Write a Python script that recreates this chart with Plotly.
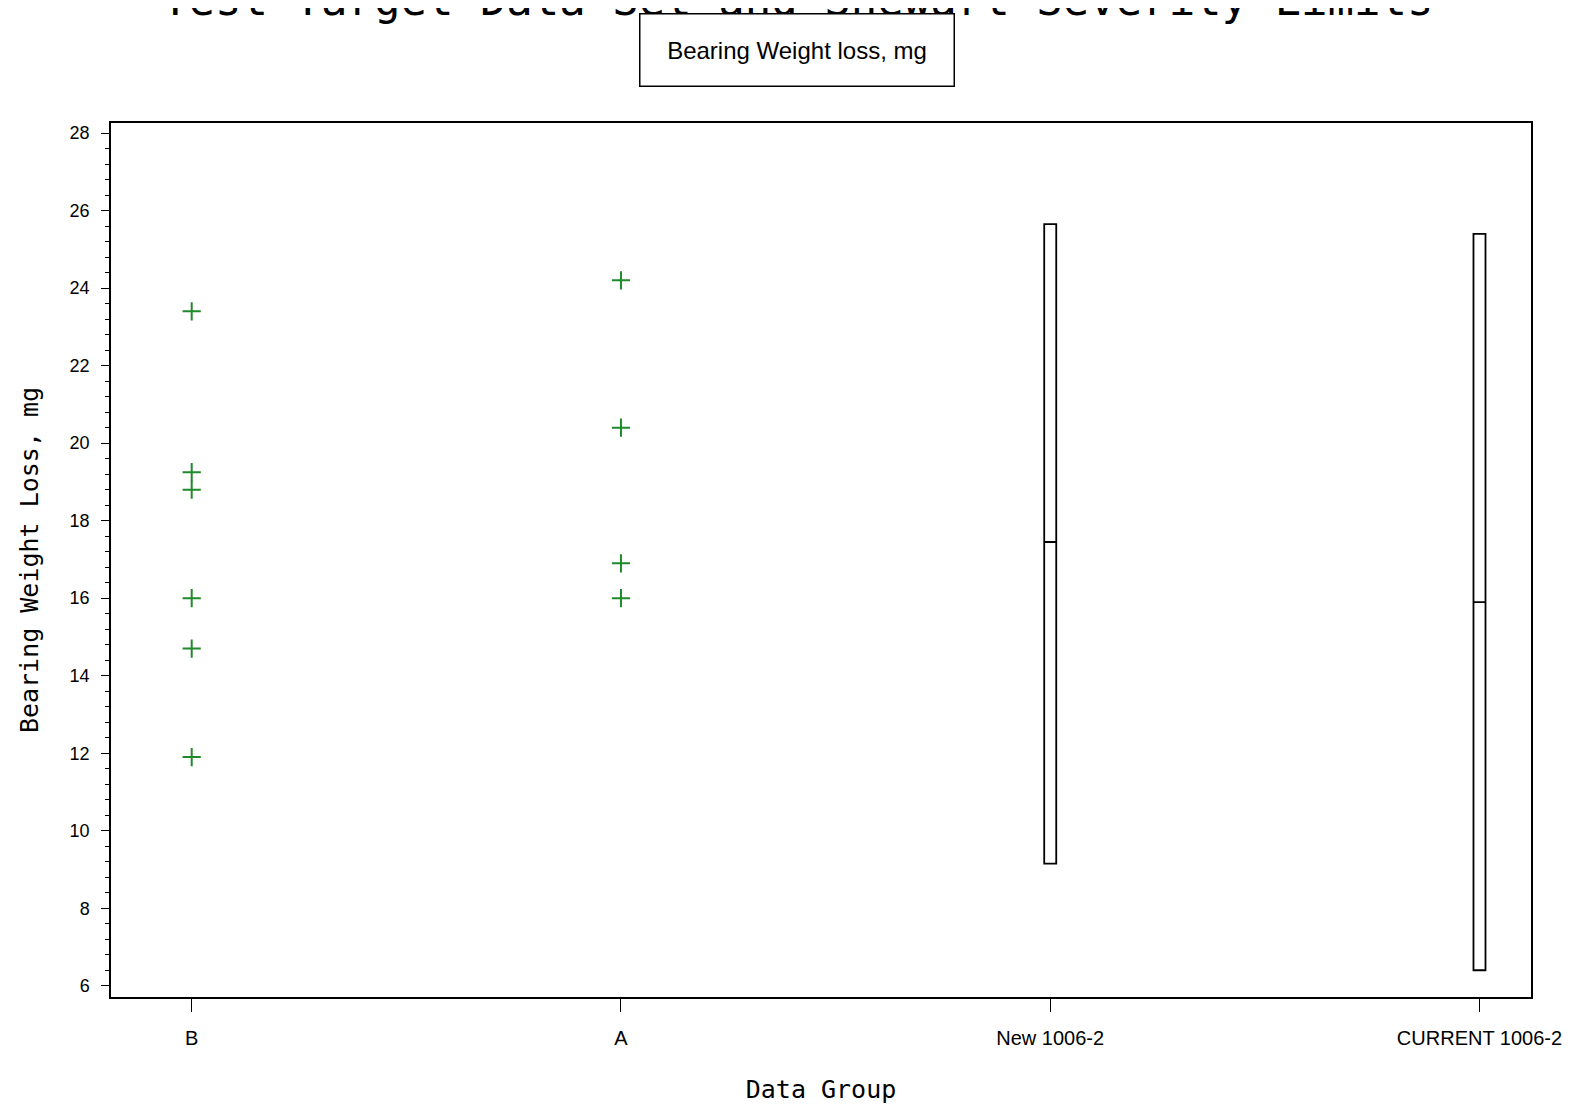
import plotly.graph_objects as go

# ---- data ----
categories = ["B", "A", "New 1006-2", "CURRENT 1006-2"]
group_b_values = [23.4, 19.25, 18.8, 16.0, 14.7, 11.9]
group_a_values = [24.2, 20.4, 16.9, 16.0]
limit_groups = ["New 1006-2", "CURRENT 1006-2"]
limit_lower = [9.15, 6.4]
limit_center = [17.45, 15.9]
limit_upper = [25.65, 25.4]
y_ticks = [6, 8, 10, 12, 14, 16, 18, 20, 22, 24, 26, 28]

W, H = 1583, 1106
# target plot frame in page pixels
FX0, FX1, FY0, FY1 = 109, 1517, 121, 989
ADJ = 6  # rendering inset observed on left/right/top
ML, MT = FX0 - ADJ, FY0 - ADJ
MR = W - FX1 - ADJ
MB = H - FY1
FONT = "Liberation Sans"
MONO = "DejaVu Sans Mono"

def pos(cat):
    return categories.index(cat)

def px(xpix):
    return (xpix - FX0) / (FX1 - FX0)

def py(ypix):
    return 1 + (FY0 - ypix) / (FY1 - FY0)

fig = go.Figure()

fig.add_trace(go.Scatter(
    x=[pos("B")] * len(group_b_values), y=group_b_values, mode="markers",
    marker=dict(symbol="cross-thin", size=13, line=dict(color="#1f8a2a", width=2)),
    showlegend=False, hoverinfo="y"))
fig.add_trace(go.Scatter(
    x=[pos("A")] * len(group_a_values), y=group_a_values, mode="markers",
    marker=dict(symbol="cross-thin", size=13, line=dict(color="#1f8a2a", width=2)),
    showlegend=False, hoverinfo="y"))

for g, lo, c, hi in zip(limit_groups, limit_lower, limit_center, limit_upper):
    fig.add_trace(go.Box(
        x=[pos(g)], q1=[lo], median=[c], q3=[hi], lowerfence=[lo], upperfence=[hi],
        width=0.028, fillcolor="white", line=dict(color="black", width=1.8),
        showlegend=False, boxpoints=False))

fig.update_layout(
    width=W, height=H,
    margin=dict(l=ML, r=MR, t=MT, b=MB, autoexpand=False),
    paper_bgcolor="white", plot_bgcolor="white",
    font=dict(family=FONT, size=16, color="black"),
    showlegend=False,
    xaxis=dict(
        range=[-0.188, 3.12], tickmode="array", automargin=False,
        tickvals=list(range(len(categories))), ticktext=categories,
        ticks="outside", ticklen=13, tickwidth=1, tickcolor="black",
        showgrid=False, zeroline=False,
        showline=True, linecolor="black", linewidth=1.5, mirror=True,
        tickfont=dict(size=20), ticklabelstandoff=9,
        title=dict(text="Data Group", font=dict(family=MONO, size=25), standoff=33),
    ),
    yaxis=dict(
        range=[5.71, 28.26], tickmode="array", tickvals=y_ticks, automargin=False,
        ticks="outside", ticklen=8, tickwidth=1, tickcolor="black",
        minor=dict(dtick=0.4, tick0=6, ticks="outside", ticklen=4, tickcolor="black"),
        showgrid=False, zeroline=False,
        showline=True, linecolor="black", linewidth=1.5, mirror=True,
        tickfont=dict(size=18), ticklabelstandoff=8,
        title=dict(text="Bearing Weight Loss, mg", font=dict(family=MONO, size=25), standoff=24),
    ),
)

fig.add_annotation(
    text="Test Target Data Set and Shewart Severity Limits",
    xref="paper", yref="paper", x=px(790), y=py(-2),
    xanchor="center", yanchor="middle", showarrow=False,
    font=dict(family=MONO, size=44, color="black"))

fig.add_annotation(
    text="Bearing Weight loss, mg",
    xref="paper", yref="paper", x=px(789.5), y=py(48.5),
    xanchor="center", yanchor="middle", showarrow=False,
    width=311, height=69, bordercolor="black", borderwidth=1.5, bgcolor="white",
    font=dict(family=FONT, size=24, color="black"))

fig.write_html("out.html")
